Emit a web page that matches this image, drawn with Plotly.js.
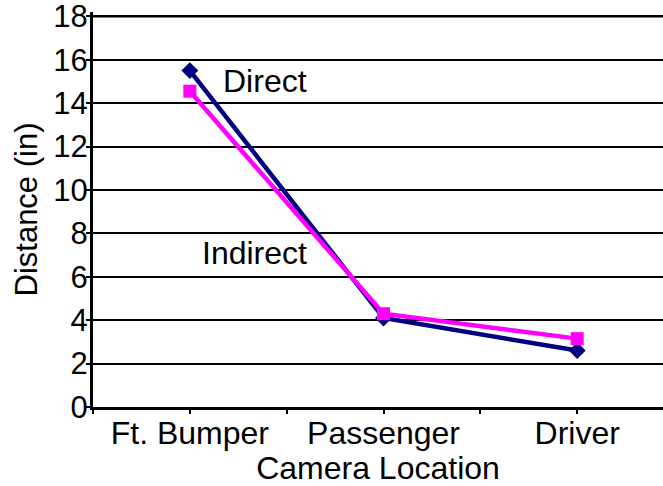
<!DOCTYPE html>
<html>
<head>
<meta charset="utf-8">
<script src="https://cdn.plot.ly/plotly-3.0.1.min.js"></script>
<style>html,body{margin:0;padding:0;background:#fff;}#chart{width:663px;height:486px;}</style>
</head>
<body>
<div id="chart"></div>
<script>
const categories = ['Ft. Bumper', 'Passenger', 'Driver'];
const directValues = [15.5, 4.1, 2.6];
const indirectValues = [14.55, 4.3, 3.15];
const seriesNames = ['Direct', 'Indirect'];
const yTicks = [0, 2, 4, 6, 8, 10, 12, 14, 16, 18];

const xIdx = categories.map((c, i) => i);
const tickVals = [];
const tickText = [];
for (let i = 0; i < categories.length; i++) {
  tickVals.push(i - 0.5, i);
  tickText.push('', categories[i]);
}
tickVals.push(categories.length - 0.5);
tickText.push('');

const font = 'Liberation Sans, Arial, sans-serif';

const traces = [
  {
    x: xIdx, y: directValues, name: seriesNames[0], type: 'scatter', mode: 'lines+markers',
    line: {color: '#000080', width: 4.5},
    marker: {symbol: 'diamond', size: 13, color: '#000080'}
  },
  {
    x: xIdx, y: indirectValues, name: seriesNames[1], type: 'scatter', mode: 'lines+markers',
    line: {color: '#FF00FF', width: 4.5},
    marker: {symbol: 'square', size: 13, color: '#FF00FF'}
  }
];

const layout = {
  width: 663, height: 486,
  margin: {l: 93, r: 0, t: 12, b: 79, pad: 0},
  paper_bgcolor: '#fff', plot_bgcolor: '#fff',
  showlegend: false,
  font: {family: font, color: '#000', size: 31},
  xaxis: {
    type: 'linear', range: [-0.5, 2.443],
    tickmode: 'array', tickvals: tickVals, ticktext: tickText,
    ticks: 'outside', ticklen: 4, tickwidth: 2, tickcolor: '#000',
    ticklabelstandoff: -8,
    showgrid: false, zeroline: false,
    showline: true, linecolor: '#000', linewidth: 3,
    tickfont: {size: 32, family: font},
    title: {text: 'Camera Location', font: {size: 32, family: font}, standoff: 19},
    automargin: false, fixedrange: true
  },
  yaxis: {
    range: [0, 18.2], tickmode: 'array', tickvals: yTicks,
    ticks: 'outside', ticklen: 4, tickwidth: 2, tickcolor: '#000',
    ticklabelstandoff: -8, ticklabeloverflow: 'allow',
    showgrid: true, gridcolor: '#000', gridwidth: 2,
    zeroline: false, showline: true, linecolor: '#000', linewidth: 3,
    tickfont: {size: 31, family: font},
    title: {text: 'Distance (in)', font: {size: 31, family: font}, standoff: 7},
    automargin: false, fixedrange: true
  },
  shapes: [
    {type: 'line', xref: 'paper', yref: 'y', x0: 0, x1: 1, y0: yTicks[yTicks.length - 1], y1: yTicks[yTicks.length - 1],
     line: {color: '#000', width: 2.5}, layer: 'below'}
  ],
  annotations: [
    {x: 0.39, y: 15.03, xref: 'x', yref: 'y', text: seriesNames[0], showarrow: false,
     font: {size: 32, family: font, color: '#000'}},
    {x: 0.335, y: 7.11, xref: 'x', yref: 'y', text: seriesNames[1], showarrow: false,
     font: {size: 32, family: font, color: '#000'}}
  ]
};

Plotly.newPlot('chart', traces, layout, {displayModeBar: false, staticPlot: true});
</script>
</body>
</html>
